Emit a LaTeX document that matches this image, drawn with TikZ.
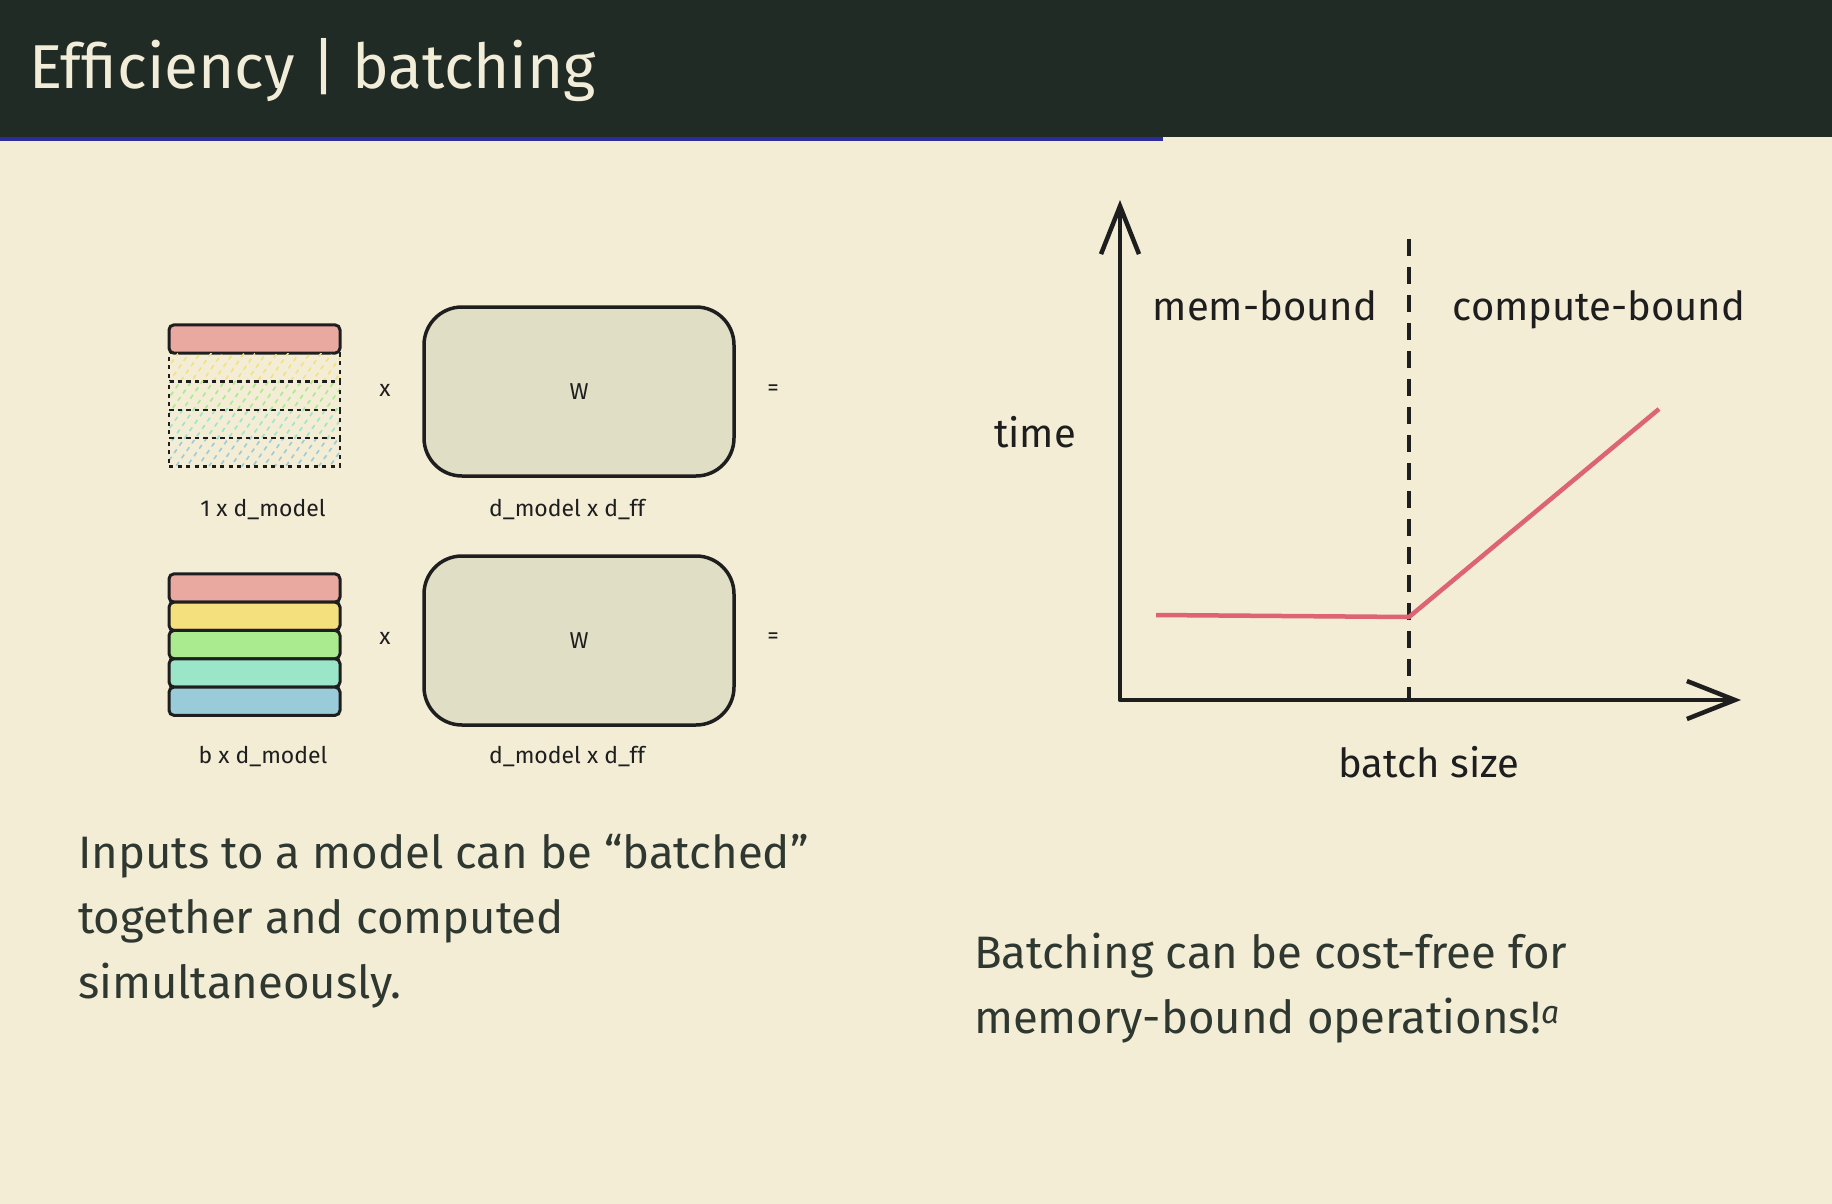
\documentclass[tikz,border=0pt]{standalone}
\usepackage{fontspec}
\setmainfont{Fira Sans}
\usetikzlibrary{positioning,arrows.meta,patterns.meta}
\definecolor{slidebg}{HTML}{F3EDD6}
\definecolor{headbg}{HTML}{212B26}
\definecolor{headtext}{HTML}{F2EDD8}
\definecolor{progress}{HTML}{2E2C9A}
\definecolor{ink}{HTML}{1E1E1E}
\definecolor{bodyink}{HTML}{2E3830}
\definecolor{wfill}{HTML}{E1DEC6}
\definecolor{rowpink}{HTML}{E9A9A0}
\definecolor{rowyellow}{HTML}{F5E07E}
\definecolor{rowgreen}{HTML}{A9EB8E}
\definecolor{rowteal}{HTML}{9BE6C9}
\definecolor{rowblue}{HTML}{9ACBD8}
\definecolor{curve}{HTML}{DD6470}
\begin{document}
\begin{tikzpicture}[x=1pt,y=-1pt,
	every node/.style={inner sep=0pt,outer sep=0pt},
	bar/.style={draw=ink,line width=3pt,rounded corners=5pt,minimum width=171pt,minimum height=28.3pt},
	ghost/.style={draw=ink,line width=2.5pt,dash pattern=on 4pt off 4.5pt,minimum width=171pt,minimum height=28.3pt,
		pattern={Lines[angle=55,distance=9pt,line width=1.6pt]}},
	wbox/.style={draw=ink,line width=3.5pt,fill=wfill,rounded corners=38pt,minimum width=310pt,minimum height=169pt,
		text=ink,font=\fontsize{23}{27}\selectfont},
	lbl/.style={text=ink,font=\fontsize{23}{27}\selectfont},
	sketch/.style={text=ink,font=\fontsize{40}{48}\selectfont},
	body/.style={text=bodyink,font=\fontsize{45.5}{65}\selectfont,align=left,anchor=base west},
	axis/.style={draw=ink,line width=4.5pt,line join=round,
		{Straight Barb[length=48pt,width=38pt]}-{Straight Barb[length=48pt,width=38pt]}}]
% slide
\useasboundingbox (0,0) rectangle (1832,1204);
\fill[slidebg] (-3,-3) rectangle (1835,1207);
\fill[headbg] (-3,-3) rectangle (1835,137);
\draw[progress,line width=4pt] (-3,139) -- (1163,139);
\node[anchor=base west,text=headtext,font=\fontsize{62}{70}\selectfont] (title) at (29,89) {Efficiency | batching};

% one input
\node[bar,fill=rowpink] (a1) at (254.5,339) {};
\node[ghost,pattern color=rowyellow,below=0pt of a1] (a2) {};
\node[ghost,pattern color=rowgreen,below=0pt of a2] (a3) {};
\node[ghost,pattern color=rowteal,below=0pt of a3] (a4) {};
\node[ghost,pattern color=rowblue,below=0pt of a4] (a5) {};
\node[wbox] (w1) at (579,391.5) {W};
\node[lbl] (times1) at (385,390) {x};
\node[lbl] (eq1) at (773,390) {=};
\node[lbl] (in1) at (263,510) {1 x d\_model};
\node[lbl] (wlab1) at (567,510) {d\_model x d\_ff};

% batch of inputs
\node[bar,fill=rowpink] (b1) at (254.5,588) {};
\node[bar,fill=rowyellow,below=0pt of b1] (b2) {};
\node[bar,fill=rowgreen,below=0pt of b2] (b3) {};
\node[bar,fill=rowteal,below=0pt of b3] (b4) {};
\node[bar,fill=rowblue,below=0pt of b4] (b5) {};
\node[wbox] (w2) at (579,640.5) {W};
\node[lbl] (times2) at (385,638) {x};
\node[lbl] (eq2) at (773,638) {=};
\node[lbl] (in2) at (263,757) {b x d\_model};
\node[lbl] (wlab2) at (567,757) {d\_model x d\_ff};

% base of a multi-line node is its last line
\node[body] (left) at (78,998) {Inputs to a model can be “batched”\\together and computed\\simultaneously.};

% plot
\coordinate (ytip) at (1120,200);
\coordinate (origin) at (1120,700);
\coordinate (xtip) at (1741,700);
\coordinate (dtop) at (1409,239);
\coordinate (dbot) at (1409,700);
\coordinate (p0) at (1156,615);
\coordinate (p1) at (1409,617);
\coordinate (p2) at (1659,409);
\draw[axis] (ytip) -- (origin) -- (xtip);
\draw[ink,line width=3.5pt,dash pattern=on 17pt off 11pt] (dtop) -- (dbot);
\draw[curve,line width=4.5pt,line join=round] (p0) -- (p1) -- (p2);
\node[sketch,anchor=base] (mem) at (1265,320) {mem-bound};
\node[sketch,anchor=base] (comp) at (1599,320) {compute-bound};
\node[sketch,anchor=base] (time) at (1035,447) {time};
\node[sketch,anchor=base] (bsize) at (1429,777) {batch size};

\node[body] (right) at (974,1033) {Batching can be cost-free for\\memory-bound operations!\textsuperscript{\textit{a}}};
\end{tikzpicture}
\end{document}
